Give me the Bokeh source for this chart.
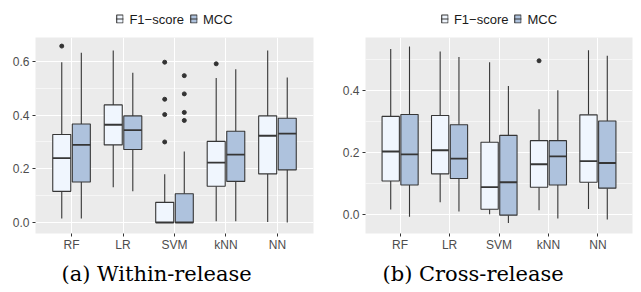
from bokeh.plotting import figure
from bokeh.models import (FactorRange, Range1d, FixedTicker, NumeralTickFormatter,
                          Legend, LegendItem, Label, ColumnDataSource)
from bokeh.transform import dodge
from bokeh.layouts import row, column
from bokeh.embed import file_html
from bokeh.resources import INLINE

models = ["RF", "LR", "SVM", "kNN", "NN"]
series_labels = ["F1\u2212score", "MCC"]

# (a) within-release
wr_f1_low = [0.015, 0.131, 0.000, 0.005, 0.002]
wr_f1_q1 = [0.116, 0.289, 0.000, 0.135, 0.181]
wr_f1_med = [0.240, 0.364, 0.000, 0.223, 0.323]
wr_f1_q3 = [0.328, 0.438, 0.075, 0.302, 0.397]
wr_f1_high = [0.597, 0.641, 0.180, 0.538, 0.641]
wr_f1_out_model = ["RF", "SVM", "SVM", "SVM", "SVM", "kNN"]
wr_f1_out_value = [0.657, 0.597, 0.459, 0.402, 0.300, 0.591]

wr_mcc_low = [0.015, 0.116, 0.000, 0.005, 0.000]
wr_mcc_q1 = [0.151, 0.272, 0.000, 0.153, 0.196]
wr_mcc_med = [0.289, 0.344, 0.000, 0.253, 0.331]
wr_mcc_q3 = [0.367, 0.397, 0.107, 0.340, 0.388]
wr_mcc_high = [0.632, 0.558, 0.264, 0.571, 0.540]
wr_mcc_out_model = ["SVM", "SVM", "SVM", "SVM"]
wr_mcc_out_value = [0.547, 0.479, 0.410, 0.380]

# (b) cross-release
cr_f1_low = [0.016, 0.040, 0.001, 0.014, 0.018]
cr_f1_q1 = [0.108, 0.131, 0.017, 0.088, 0.104]
cr_f1_med = [0.203, 0.207, 0.088, 0.162, 0.172]
cr_f1_q3 = [0.316, 0.319, 0.233, 0.238, 0.321]
cr_f1_high = [0.533, 0.525, 0.490, 0.339, 0.529]
cr_f1_out_model = ["kNN"]
cr_f1_out_value = [0.495]

cr_mcc_low = [-0.007, 0.010, -0.027, -0.013, -0.016]
cr_mcc_q1 = [0.095, 0.116, -0.002, 0.095, 0.085]
cr_mcc_med = [0.194, 0.180, 0.104, 0.187, 0.166]
cr_mcc_q3 = [0.322, 0.289, 0.255, 0.238, 0.301]
cr_mcc_high = [0.541, 0.507, 0.414, 0.400, 0.511]
cr_mcc_out_model = []
cr_mcc_out_value = []

F1_FILL = "#F0F6FE"
MCC_FILL = "#AEC2DD"
EDGE = "#363636"
OFF = 0.19
BW = 0.35

LEG_H = 37
FRAME_H = 196
AXIS_H = 22
CAP_H = 292 - LEG_H - FRAME_H - AXIS_H


def box_source(low, q1, med, q3, high):
    return ColumnDataSource(dict(model=models, low=low, q1=q1, med=med, q3=q3, high=high))


def boxes(p, off, fill, low, q1, med, q3, high, out_m, out_v):
    src = box_source(low, q1, med, q3, high)
    xr = p.x_range
    p.segment(x0=dodge("model", off, range=xr), x1=dodge("model", off, range=xr),
              y0="q3", y1="high", source=src, line_color=EDGE, line_width=1.1)
    p.segment(x0=dodge("model", off, range=xr), x1=dodge("model", off, range=xr),
              y0="q1", y1="low", source=src, line_color=EDGE, line_width=1.1)
    p.vbar(x=dodge("model", off, range=xr), width=BW, top="q3", bottom="q1",
           source=src, fill_color=fill, line_color=EDGE, line_width=1.1)
    p.segment(x0=dodge("model", off - BW / 2, range=xr),
              x1=dodge("model", off + BW / 2, range=xr),
              y0="med", y1="med", source=src, line_color=EDGE, line_width=1.8)
    if out_m:
        osrc = ColumnDataSource(dict(model=out_m, value=out_v))
        p.scatter(x=dodge("model", off, range=xr), y="value", source=osrc, size=4,
                  fill_color="#333333", line_color="#333333")


def blank_fig(w, h, bl, br, x_range=None, y_range=None):
    f = figure(width=w, height=h,
               x_range=x_range if x_range is not None else Range1d(0, 1),
               y_range=y_range if y_range is not None else Range1d(0, 1),
               x_axis_type=None, y_axis_type=None, min_border_left=bl,
               min_border_right=br, min_border_top=0, min_border_bottom=0, title=None,
               output_backend="svg", toolbar_location=None, outline_line_color=None,
               background_fill_color="white", border_fill_color="white")
    f.xgrid.visible = False
    f.ygrid.visible = False
    return f


def legend_fig(w, bl, br, f1, mcc):
    # key glyphs reuse the box data; the y range keeps the boxes themselves out of view
    f = blank_fig(w, LEG_H, bl, br, x_range=FactorRange(factors=models),
                  y_range=Range1d(10, 11))
    items = []
    for lab, fill, stats in zip(series_labels, [F1_FILL, MCC_FILL], [f1, mcc]):
        src = box_source(*stats[:5])
        b = f.vbar(x="model", top="q3", bottom="q1", width=BW, source=src,
                   fill_color=fill, line_color=EDGE, line_width=1.1)
        m = f.segment(x0="model", x1="model", y0="med", y1="med", source=src,
                      line_color=EDGE, line_width=1.1)
        items.append(LegendItem(label=lab, renderers=[b, m]))
    legend = Legend(items=items, orientation="horizontal", location="center",
                    label_text_font="Liberation Sans", label_text_font_size="13px",
                    label_text_color="#1A1A1A", label_height=13, glyph_height=10,
                    glyph_width=8, label_standoff=6, spacing=5, padding=2, margin=0,
                    border_line_color=None, background_fill_alpha=0)
    f.add_layout(legend, "center")
    return f


def caption_fig(w, bl, br, text, cap_x):
    f = blank_fig(w, CAP_H, bl, br)
    f.add_layout(Label(x=cap_x, y=19, x_units="screen", y_units="screen", text=text,
                       text_font="DejaVu Serif", text_font_size="21px",
                       text_color="black", text_baseline="alphabetic", text_align="left"))
    return f


def panel(ylo, yhi, ticks, minor, f1, mcc, caption, fw, bl, br, cap_x):
    w = bl + fw + br
    p = figure(x_range=FactorRange(factors=models, range_padding=0.2,
                                   range_padding_units="absolute"),
               y_range=Range1d(ylo, yhi), width=w, height=FRAME_H + AXIS_H,
               min_border_left=bl, min_border_right=br, min_border_top=0,
               min_border_bottom=AXIS_H, title=None,
               output_backend="svg", toolbar_location=None,
               background_fill_color="#EBEBEB", border_fill_color="white",
               outline_line_color=None)
    p.yaxis.ticker = FixedTicker(ticks=ticks, minor_ticks=minor)
    p.yaxis.formatter = NumeralTickFormatter(format="0.0")
    for ax in (p.xaxis[0], p.yaxis[0]):
        ax.axis_line_color = None
        ax.major_tick_line_color = "#333333"
        ax.major_tick_out = 3
        ax.major_tick_in = 0
        ax.minor_tick_line_color = None
        ax.major_label_text_font = "Liberation Sans"
        ax.major_label_text_font_size = "12px"
        ax.major_label_text_color = "#4D4D4D"
        ax.major_label_standoff = 2
    p.xaxis.major_label_standoff = 1
    p.xgrid.grid_line_color = "white"
    p.xgrid.grid_line_width = 1.1
    p.ygrid.grid_line_color = "white"
    p.ygrid.grid_line_width = 1.1
    p.ygrid.minor_grid_line_color = "white"
    p.ygrid.minor_grid_line_width = 0.55

    boxes(p, -OFF, F1_FILL, *f1)
    boxes(p, OFF, MCC_FILL, *mcc)

    return column(legend_fig(w, bl, br, f1, mcc), p,
                  caption_fig(w, bl, br, caption, cap_x), spacing=0)


c1 = panel(-0.041, 0.689, [0.0, 0.2, 0.4, 0.6], [0.1, 0.3, 0.5],
           (wr_f1_low, wr_f1_q1, wr_f1_med, wr_f1_q3, wr_f1_high, wr_f1_out_model, wr_f1_out_value),
           (wr_mcc_low, wr_mcc_q1, wr_mcc_med, wr_mcc_q3, wr_mcc_high, wr_mcc_out_model, wr_mcc_out_value),
           "(a) Within-release", 278, 35, 7, 26)
c2 = panel(-0.061, 0.57, [0.0, 0.2, 0.4], [0.1, 0.3, 0.5],
           (cr_f1_low, cr_f1_q1, cr_f1_med, cr_f1_q3, cr_f1_high, cr_f1_out_model, cr_f1_out_value),
           (cr_mcc_low, cr_mcc_q1, cr_mcc_med, cr_mcc_q3, cr_mcc_high, cr_mcc_out_model, cr_mcc_out_value),
           "(b) Cross-release", 267, 45, 9, 17)

layout = row(c1, c2, spacing=0)
open("out.html", "w").write(file_html(layout, INLINE))
